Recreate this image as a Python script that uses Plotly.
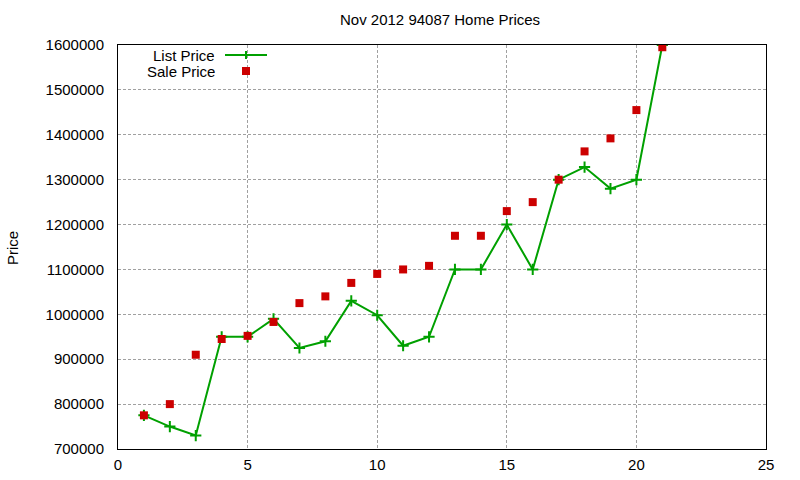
import plotly.graph_objects as go

house = list(range(1, 22))
list_price = [775000, 750000, 730000, 950000, 950000, 990000, 925000, 940000, 1030000, 998000,
              930000, 950000, 1100000, 1100000, 1200000, 1100000, 1300000, 1328000, 1280000, 1300000, 1600000]
sale_price = [775000, 800000, 910000, 945000, 952000, 983000, 1025000, 1040000, 1070000, 1090000,
              1100000, 1108000, 1175000, 1175000, 1230000, 1250000, 1300000, 1363000, 1392000, 1455000, 1595000]
x_ticks = [0, 5, 10, 15, 20, 25]
y_ticks = [700000, 800000, 900000, 1000000, 1100000, 1200000, 1300000, 1400000, 1500000, 1600000]

GREEN = "#00a000"
RED = "#cc0000"
FONT = "Liberation Sans, Arial, sans-serif"

L, R, T, B = 118, 766, 45, 449
W, H = 800, 480
def px(x):
    return (x - L) / (R - L)
def py(y):
    return (B - y) / (B - T)

fig = go.Figure()
fig.add_trace(go.Scatter(x=house, y=list_price, mode="lines+markers", name="List Price",
                         line=dict(color=GREEN, width=2),
                         marker=dict(symbol="cross-thin", size=8, line=dict(color=GREEN, width=2))))
fig.add_trace(go.Scatter(x=house, y=sale_price, mode="markers", name="Sale Price",
                         marker=dict(symbol="square", size=8, color=RED)))

axis_common = dict(showline=True, linecolor="black", linewidth=1, mirror=True,
                   showgrid=True, gridcolor="#a0a0a0", griddash="3px,2px", gridwidth=1,
                   zeroline=False, ticks="", automargin=False,
                   tickfont=dict(family=FONT, size=15, color="black"))
fig.update_xaxes(range=[0, 25], tickvals=x_ticks, ticktext=[str(v) for v in x_ticks],
                 ticklabelstandoff=2, **axis_common)
fig.update_yaxes(range=[700000, 1600000], tickvals=y_ticks, ticktext=[str(v) for v in y_ticks],
                 ticklabelstandoff=10, **axis_common)

txt = dict(family=FONT, size=15, color="black")
annotations = [
    dict(text="Nov 2012 94087 Home Prices", x=px(440), y=py(20), xref="paper", yref="paper",
         xanchor="center", yanchor="middle", showarrow=False, font=txt),
    dict(text="Price", x=px(12), y=py(248), xref="paper", yref="paper", textangle=-90,
         xanchor="center", yanchor="middle", showarrow=False, font=txt),
    dict(text="List Price", x=px(217), y=py(55), xref="paper", yref="paper", height=14,
         xanchor="right", yanchor="middle", showarrow=False, font=txt),
    dict(text="Sale Price", x=px(217), y=py(71), xref="paper", yref="paper", height=14,
         xanchor="right", yanchor="middle", showarrow=False, font=txt),
]
shapes = [
    dict(type="line", xref="paper", yref="paper", x0=px(225), x1=px(267), y0=py(55), y1=py(55),
         line=dict(color=GREEN, width=2)),
    dict(type="line", xref="paper", yref="paper", x0=px(246), x1=px(246), y0=py(51), y1=py(59),
         line=dict(color=GREEN, width=2)),
    dict(type="rect", xref="paper", yref="paper", x0=px(242), x1=px(250), y0=py(67), y1=py(75),
         fillcolor=RED, line=dict(width=0)),
]

fig.update_layout(width=W, height=H, margin=dict(l=L, r=W - R, t=T, b=H - B, autoexpand=False),
                  plot_bgcolor="white", paper_bgcolor="white", showlegend=False,
                  annotations=annotations, shapes=shapes, font=dict(family=FONT))
fig.write_html("out.html", config={"displayModeBar": False},
               post_script="document.body.style.margin='0';")
